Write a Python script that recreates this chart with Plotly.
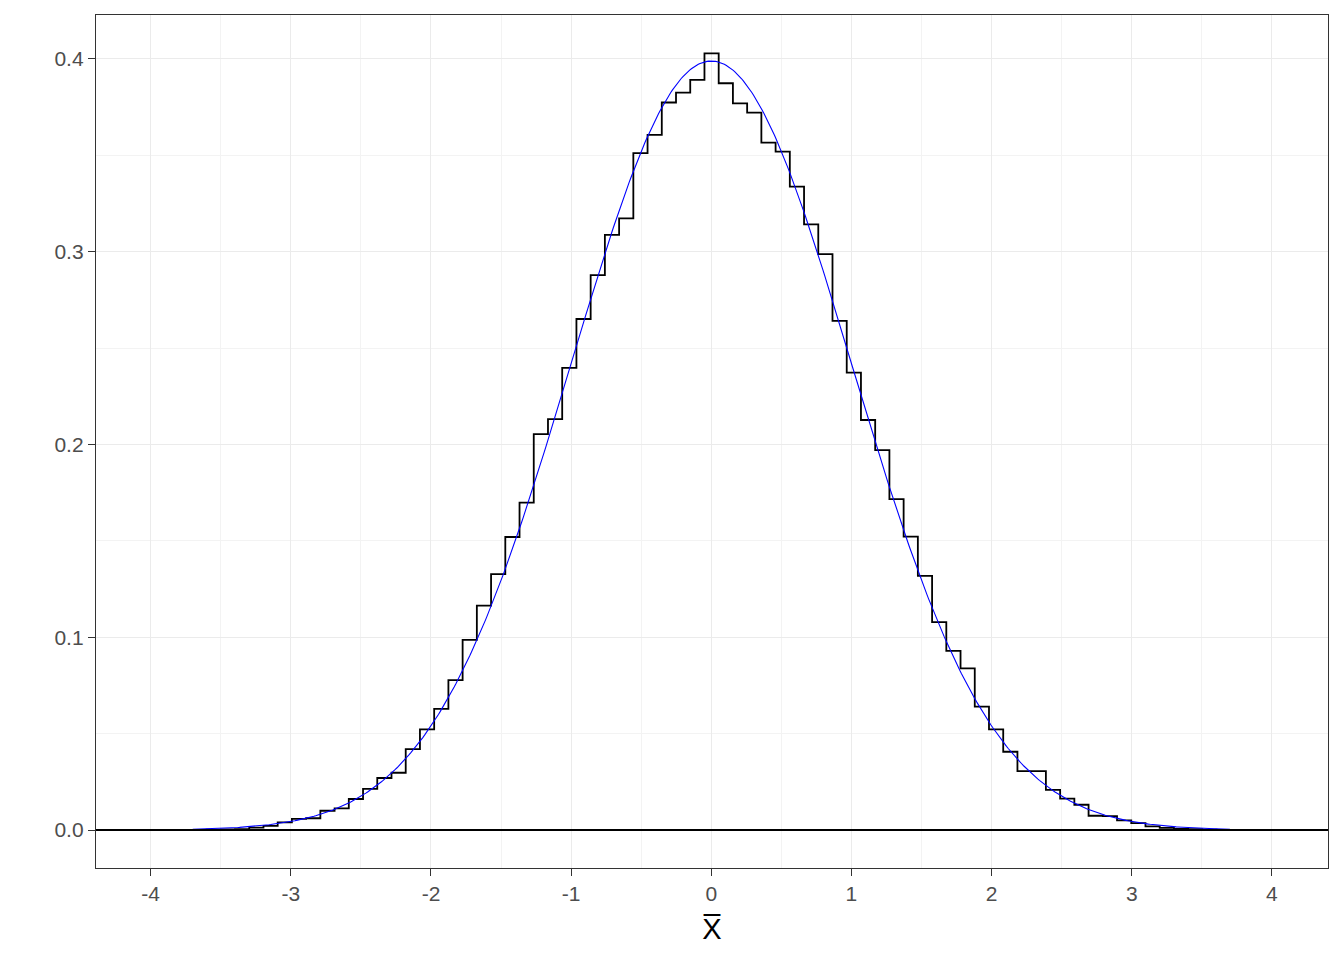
import numpy as np
import plotly.graph_objects as go

# ---- data ----
bin_center0 = 0.002        # centre of the bin at index 0
bin_width = 0.1015
bin_index = list(range(-37, 38))
density = [
    0.0001, 0.0001, 0.0002, 0.0003, 0.0005, 0.0012, 0.0022, 0.0040, 0.0058, 0.0061,  # -37..-28
    0.0100, 0.0112, 0.0161, 0.0213, 0.0270, 0.0297, 0.0420, 0.0522, 0.0628, 0.0778,  # -27..-18
    0.0986, 0.1164, 0.1328, 0.1520, 0.1698, 0.2054, 0.2132, 0.2397, 0.2651, 0.2879,  # -17..-8
    0.3087, 0.3173, 0.3511, 0.3606, 0.3774, 0.3825, 0.3891,                          # -7..-1
    0.4029,                                                                          # 0
    0.3874, 0.3770, 0.3722, 0.3566, 0.3519, 0.3338, 0.3142, 0.2988, 0.2641, 0.2373,  # 1..10
    0.2127, 0.1971, 0.1717, 0.1522, 0.1318, 0.1079, 0.0929, 0.0839, 0.0640, 0.0522,  # 11..20
    0.0406, 0.0306, 0.0306, 0.0208, 0.0163, 0.0131, 0.0074, 0.0072, 0.0050, 0.0036,  # 21..30
    0.0019, 0.0011, 0.0006, 0.0004, 0.0002, 0.0001, 0.0001,                          # 31..37
]
x_ticks = [-4, -3, -2, -1, 0, 1, 2, 3, 4]
y_ticks = [0.0, 0.1, 0.2, 0.3, 0.4]
curve_from, curve_to = -3.7, 3.7

# ---- build step line ----
edges_left = [bin_center0 + (k - 0.5) * bin_width for k in bin_index]
x_step = edges_left + [edges_left[-1] + bin_width]
y_step = density + [density[-1]]

xc = np.linspace(curve_from, curve_to, 600)
yc = np.exp(-xc ** 2 / 2) / np.sqrt(2 * np.pi)

fig = go.Figure()
fig.add_trace(go.Scatter(x=x_step, y=y_step, mode="lines", line=dict(shape="hv", color="black", width=1.8),
                         hoverinfo="skip", showlegend=False))
fig.add_trace(go.Scatter(x=xc, y=yc, mode="lines", line=dict(color="blue", width=1.1),
                         showlegend=False))
fig.add_hline(y=0, line=dict(color="black", width=1.8))

axis_common = dict(
    showline=True, mirror=True, linecolor="#333333", linewidth=1.3,
    ticks="outside", ticklen=7, tickwidth=1.3, tickcolor="#333333",
    showgrid=True, gridcolor="#EBEBEB", gridwidth=1.4, zeroline=False,
    tickfont=dict(family="Liberation Sans, Arial", size=21, color="#4D4D4D"),
)
fig.update_xaxes(**axis_common, range=[-4.39, 4.40], tickvals=x_ticks,
                 ticktext=[str(v) for v in x_ticks],
                 minor=dict(showgrid=True, gridcolor="#F3F3F3", gridwidth=1.0, dtick=0.5, tick0=0.5, ticks=""),
                 title=dict(text="X\u0305", font=dict(family="Liberation Sans, Arial", size=29, color="black"),
                            standoff=14))
fig.update_yaxes(**axis_common, range=[-0.0197, 0.4228], tickvals=y_ticks,
                 ticktext=[f"{v:.1f}" for v in y_ticks],
                 minor=dict(showgrid=True, gridcolor="#F3F3F3", gridwidth=1.0, dtick=0.05, tick0=0.05, ticks=""))

fig.update_layout(width=1344, height=960, plot_bgcolor="white", paper_bgcolor="white",
                  margin=dict(l=96, r=16, t=15, b=92))

fig.write_html("out.html", config={"displayModeBar": False},
               post_script="document.body.style.margin='0px';")
